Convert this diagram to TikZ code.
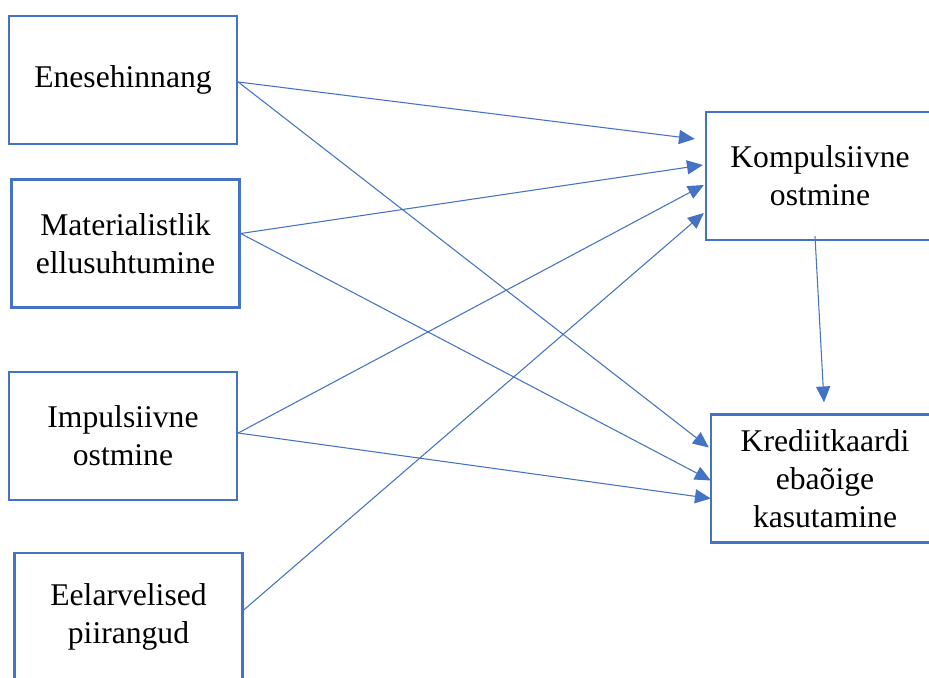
\documentclass[tikz,border=0pt]{standalone}
\usepackage{fontspec}
\setmainfont{Liberation Serif}
\usetikzlibrary{arrows.meta,calc}
\definecolor{boxblue}{RGB}{68,114,196}
\tikzset{
  factor/.style={draw=boxblue,line width=1.4pt,fill=white,inner sep=0pt,
    minimum width=4.56cm,minimum height=2.56cm,align=center,
    font=\fontsize{18}{21.5}\selectfont},
  link/.style={draw=boxblue,line width=0.6pt,-{Triangle[length=9pt,width=8pt]}}
}
\begin{document}
\begin{tikzpicture}[x=0.02cm,y=-0.02cm]
            \clip (0,0) rectangle (929,678);
            \fill[white] (0,0) rectangle (929,678);

            % left column
            \node[factor] (ene) at (123,80) {Enesehinnang};
            \node[factor] (mat) at (125.5,243.5) {Materialistlik\\ellusuhtumine};
            \node[factor] (imp) at (123,436) {Impulsiivne\\ostmine};
            \node[factor] (eel) at (128.5,617) {Eelarvelised\\piirangud};

            % right column
            \node[factor] (komp) at (820,176) {Kompulsiivne\\ostmine};
            \node[factor] (kred) at (825,478.5) {Krediitkaardi\\ebaõige\\kasutamine};

            % arrow ends
            \coordinate (ene-out) at ($ (ene.east) + (0,2) $);
            \coordinate (mat-out) at ($ (mat.east) + (0,-10) $);
            \coordinate (imp-out) at ($ (imp.east) + (0,-3) $);
            \coordinate (eel-out) at ($ (eel.east) + (0,-7) $);
            \coordinate (komp-out) at ($ (komp.south) + (-5,-5) $);

            \coordinate (komp-in1) at ($ (komp.west) + (-10,-37) $);
            \coordinate (komp-in2) at ($ (komp.west) + (-2,-11) $);
            \coordinate (komp-in3) at ($ (komp.west) + (-1,9) $);
            \coordinate (komp-in4) at ($ (komp.west) + (-1,37) $);
            \coordinate (kred-in1) at ($ (kred.west) + (-1,-31) $);
            \coordinate (kred-in2) at ($ (kred.west) + (1,2) $);
            \coordinate (kred-in3) at ($ (kred.west) + (1,20) $);
            \coordinate (kred-top) at ($ (kred.north) + (-1,-11) $);

            \draw[link] (ene-out) -- (komp-in1);
            \draw[link] (mat-out) -- (komp-in2);
            \draw[link] (imp-out) -- (komp-in3);
            \draw[link] (eel-out) -- (komp-in4);
            \draw[link] (ene-out) -- (kred-in1);
            \draw[link] (mat-out) -- (kred-in2);
            \draw[link] (imp-out) -- (kred-in3);
            \draw[link] (komp-out) -- (kred-top);
        \end{tikzpicture}
\end{document}
